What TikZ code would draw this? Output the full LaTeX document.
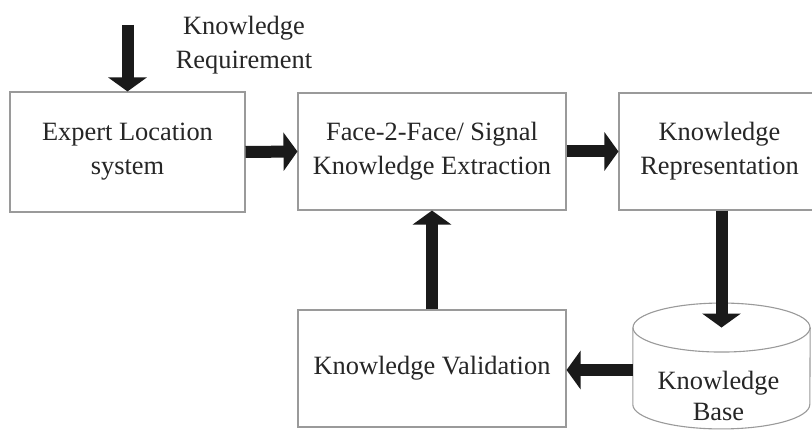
\documentclass[tikz,border=0pt]{standalone}
\usepackage{fontspec}
\setmainfont{Liberation Serif}
\usetikzlibrary{arrows.meta,calc}
\definecolor{boxgray}{HTML}{9A9A9A}
\definecolor{arrowblk}{HTML}{1A1A1A}
\begin{document}
\begin{tikzpicture}[x=1pt,y=-1pt,
  txt/.style={align=center,inner sep=0pt,font=\fontsize{26.4}{34}\selectfont,text=black!85},
  box/.style={txt,draw=boxgray,line width=1.1pt,fill=white,minimum width=#1,minimum height=117pt},
  fat/.style={draw=arrowblk,line width=12pt,-{Triangle[width=38pt,length=14pt]}},
  cyl/.style={draw=boxgray,line width=1.1pt}]
\useasboundingbox[fill=white] (0,0) rectangle (812,430);

\node[box=235pt,minimum height=120pt] (exp) at (127.5,152) {Expert Location\\system};
\node[box=268pt] (face) at (432,151.5) {Face-2-Face/ Signal\\Knowledge Extraction};
\node[box=201pt] (rep) at (719.5,151.5) {Knowledge\\Representation};
\node[box=268pt] (val) at (432,368.5) {Knowledge Validation};

% knowledge base cylinder
\node[minimum width=177pt,minimum height=125.5pt,inner sep=0pt] (kb) at (721.5,366) {};
\coordinate (kbtop) at ($(kb.north)+(0,24.5)$);
\coordinate (kbout) at ($(kb.west)+(0,4)$);
\fill[white] ($(kb.north west)+(0,24.5)$) -- ($(kb.south west)+(0,-24.5)$)
  arc[start angle=180,end angle=360,x radius=88.5pt,y radius=24.5pt]
  -- ($(kb.north east)+(0,24.5)$) -- cycle;
\draw[cyl] ($(kb.north west)+(0,24.5)$) -- ($(kb.south west)+(0,-24.5)$)
  arc[start angle=180,end angle=360,x radius=88.5pt,y radius=24.5pt]
  -- ($(kb.north east)+(0,24.5)$);
\draw[cyl] (kbtop) ellipse[x radius=88.5pt,y radius=24.5pt];
\node[txt,font=\fontsize{26.4}{31}\selectfont] (kbt) at ($(kb.center)+(-3,30)$) {Knowledge\\Base};

% requirement label
\node[txt] (req) at (244,45) {Knowledge\\Requirement};
\coordinate (reqin) at (127.5,25);

% arrows
\draw[fat] (reqin) -- (exp.north);
\draw[fat] (exp.east) -- (face.west);
\draw[fat] (face.east) -- (rep.west);
\draw[fat] (rep.south -| kbtop) -- (kbtop);
\draw[fat] (kbout) -- (val.east |- kbout);
\draw[fat] (val.north) -- (face.south);
\end{tikzpicture}
\end{document}
